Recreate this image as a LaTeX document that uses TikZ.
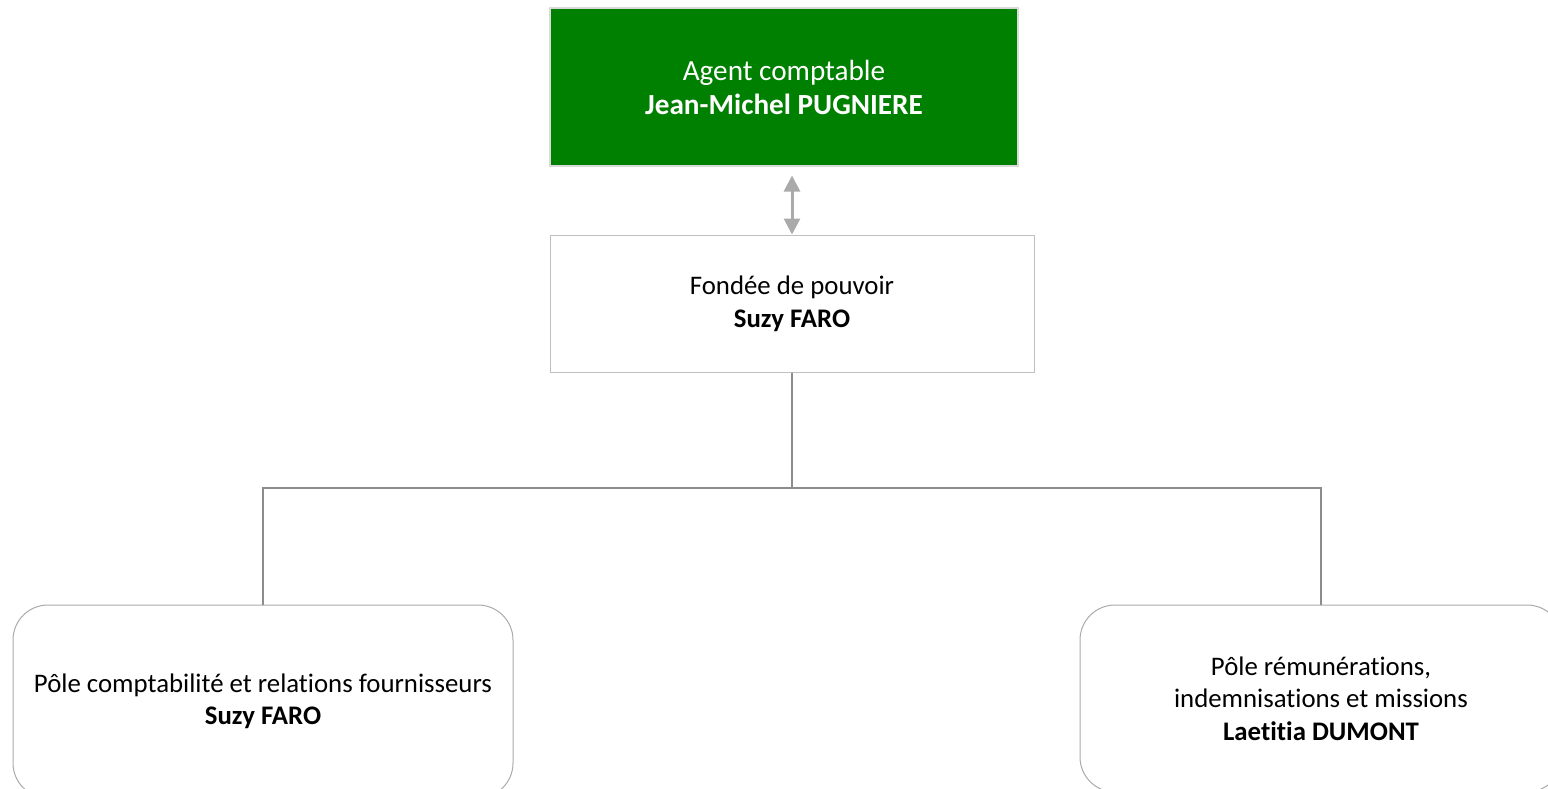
\documentclass[tikz,border=0pt]{standalone}
\usepackage{fontspec}
\setmainfont[Ligatures=NoCommon]{Carlito}
\usetikzlibrary{positioning,arrows.meta}
\definecolor{chefgreen}{RGB}{0,128,0}
\definecolor{boxgray}{RGB}{191,191,191}
\definecolor{linegray}{RGB}{140,140,140}
\definecolor{arrowgray}{RGB}{170,170,170}

\begin{document}
\begin{tikzpicture}[x=0.5pt,y=-0.5pt,
  chef/.style={draw=black!15,line width=0.6pt,fill=chefgreen,text=white,align=center,
    minimum width=234pt,minimum height=79pt,font=\fontsize{14.6}{17}\selectfont},
  adjoint/.style={draw=boxgray,line width=0.5pt,fill=white,align=center,
    minimum width=242pt,minimum height=68.5pt,font=\fontsize{13.4}{16.5}\selectfont},
  pole/.style={draw=arrowgray,line width=0.5pt,rounded corners=17.5pt,align=center,
    font=\fontsize{13.4}{16.2}\selectfont},
  conn/.style={draw=linegray,line width=0.75pt}]
\useasboundingbox (0,0) rectangle (1548,788);
\clip (0,0) rectangle (1548,788);
% Boxes
\node[chef] (agent) at (784,87) {Agent comptable\\\textbf{Jean-Michel PUGNIERE}};
\node[adjoint] (fondee) at (792,303.5) {Fondée de pouvoir\\\textbf{Suzy FARO}};
\node[pole,minimum width=250pt,minimum height=96.5pt] (polecompta) at (263,701.5)
  {Pôle comptabilité et relations fournisseurs\\\textbf{Suzy FARO}};
\node[pole,minimum width=241pt,minimum height=93.5pt] (poleremu) at (1321,698.5)
  {Pôle rémunérations,\\indemnisations et missions\\\textbf{Laetitia DUMONT}};
% Connectors
\coordinate (bus) at (792,488);
\draw[arrowgray,line width=1.5pt,{Triangle[width=8pt,length=8pt]}-{Triangle[width=8pt,length=8pt]},shorten <=4.5pt]
  (fondee.north |- agent.south) -- (fondee.north);
\draw[conn] (fondee.south) -- (bus);
\draw[conn] (polecompta.north) |- (bus);
\draw[conn] (poleremu.north) |- (bus);
\end{tikzpicture}
\end{document}
